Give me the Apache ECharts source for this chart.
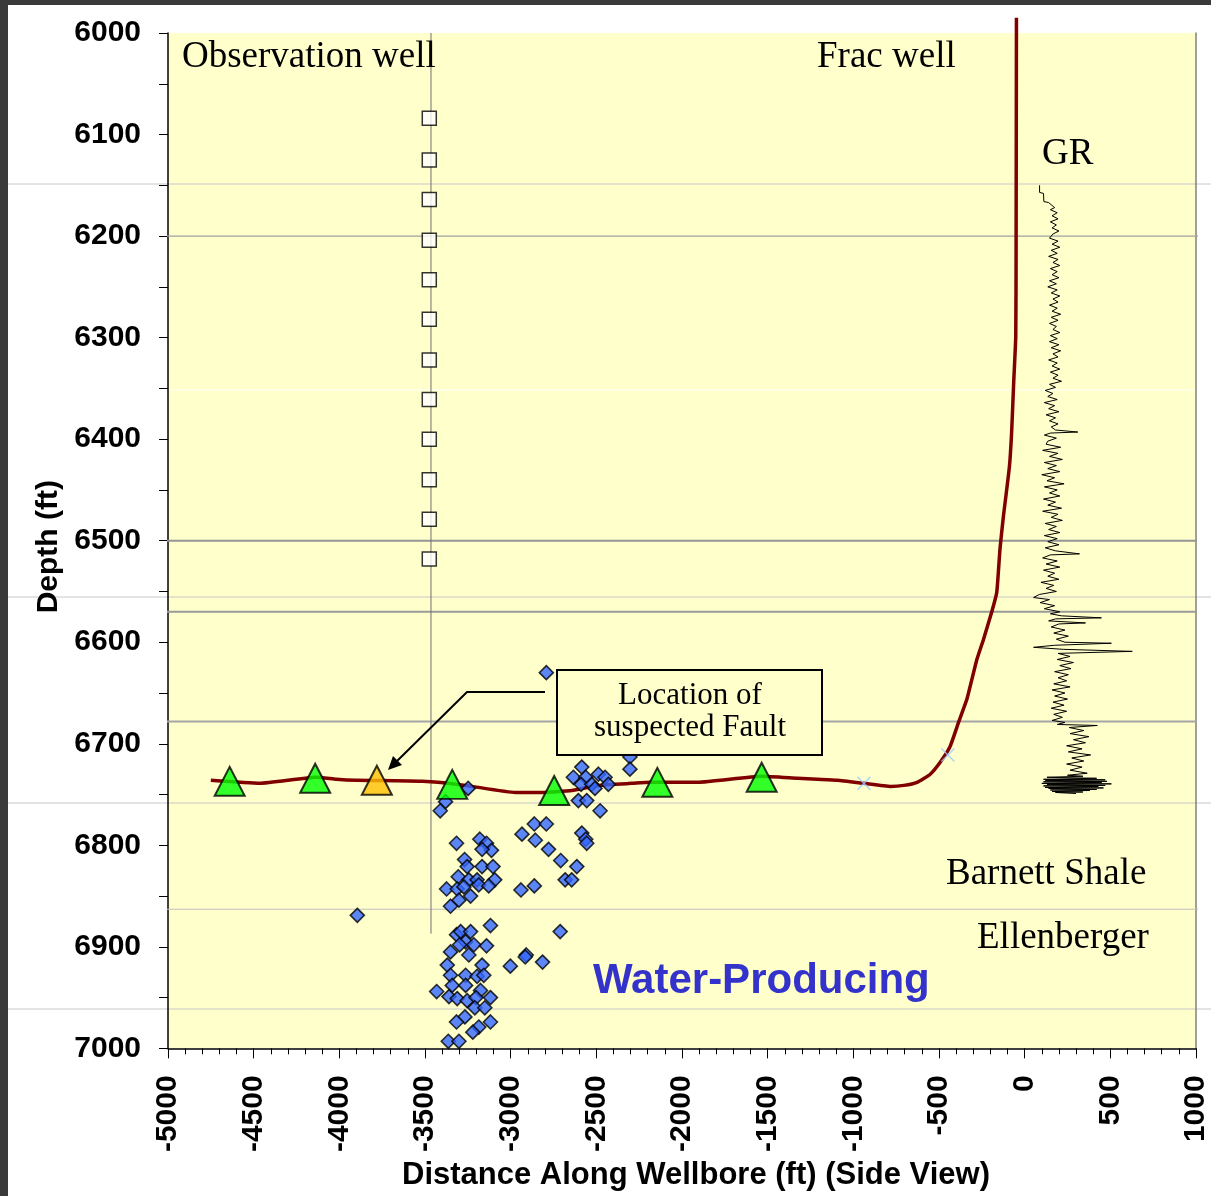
<!DOCTYPE html>
<html>
<head>
<meta charset="utf-8">
<script src="https://cdn.jsdelivr.net/npm/echarts@6/dist/echarts.min.js"></script>
<style>
  html, body { margin: 0; padding: 0; background: #fff; }
  #chart { width: 1211px; height: 1196px; }
</style>
</head>
<body>
<div id="chart"></div>
<script>
// axis ranges
var xMin = -5000, xMax = 1000;
var depthMin = 6000, depthMax = 7000;

// formation tops / marker horizons (ft)
var topDepths = [6200, 6500, 6570, 6678, 6863];

// observation well
var obsWellX = -3465;
var obsWellBottom = 6887;
var obsGaugeX = -3475;
var obsGaugeDepths = [6084, 6125, 6164, 6204, 6243, 6282, 6322, 6361, 6400, 6440, 6479, 6518];

// frac well path [distance, depth]
var fracPath = [
    [-48, 5985], [-50, 6213], [-52, 6299], [-64, 6344], [-76, 6393], [-89, 6427],
    [-124, 6476], [-144, 6508], [-163, 6551], [-192, 6570], [-240, 6597], [-279, 6617],
    [-337, 6656], [-384, 6678], [-436, 6703], [-492, 6718], [-551, 6730], [-628, 6738],
    [-705, 6741], [-783, 6742], [-938, 6739], [-1093, 6736], [-1209, 6735], [-1326, 6734],
    [-1535, 6732], [-1907, 6738], [-2180, 6738], [-2295, 6739], [-2488, 6741], [-2643, 6746],
    [-2818, 6748], [-2972, 6748], [-3263, 6741], [-3515, 6737], [-3901, 6736], [-4017, 6735],
    [-4134, 6733], [-4465, 6739], [-4750, 6736]
];

// perforation markers on the frac well
var perfPoints = [[-938, 6739], [-448, 6711]];

// frac stages (triangles)
var stagePoints = [[-4640, 6737], [-4141, 6734], [-3341, 6740], [-2746, 6746], [-2144, 6738], [-1535, 6733]];
var faultStagePoints = [[-3781, 6736]];

// microseismic events [distance, depth]
var eventPoints = [
    [-2792, 6630], [-3248, 6744], [-3380, 6757], [-3411, 6766], [-2585, 6723], [-2634, 6733],
    [-2562, 6733], [-2589, 6740], [-2527, 6740], [-2488, 6730], [-2449, 6733], [-2430, 6740],
    [-2508, 6744], [-2605, 6756], [-2556, 6756], [-2478, 6766], [-2304, 6713], [-2304, 6725],
    [-3316, 6798], [-3180, 6794], [-3141, 6798], [-3112, 6805], [-3167, 6804], [-3269, 6814],
    [-3254, 6821], [-3167, 6821], [-3103, 6821], [-3306, 6831], [-3244, 6834], [-3196, 6834],
    [-3093, 6834], [-3186, 6839], [-3128, 6840], [-3374, 6843], [-3312, 6843], [-3273, 6841],
    [-3234, 6850], [-3302, 6854], [-3351, 6860], [-2934, 6789], [-2862, 6779], [-2792, 6779],
    [-2856, 6795], [-2779, 6804], [-2708, 6815], [-2614, 6821], [-2682, 6834], [-2644, 6834],
    [-2940, 6844], [-2862, 6840], [-2585, 6788], [-2562, 6794], [-2556, 6798], [-3118, 6879],
    [-3316, 6888], [-3292, 6885], [-3234, 6885], [-3263, 6895], [-3215, 6898], [-3141, 6899],
    [-3351, 6905], [-3298, 6898], [-3244, 6908], [-3370, 6918], [-3167, 6918], [-3351, 6928],
    [-3263, 6928], [-3196, 6929], [-3157, 6928], [-3341, 6938], [-3263, 6938], [-3176, 6943],
    [-3432, 6944], [-3360, 6949], [-3312, 6951], [-3254, 6953], [-3202, 6950], [-3118, 6950],
    [-3209, 6960], [-3151, 6960], [-3267, 6969], [-3316, 6974], [-3186, 6979], [-3118, 6974],
    [-3221, 6984], [-3364, 6993], [-3302, 6993], [-2711, 6885], [-2909, 6908], [-2915, 6910],
    [-3002, 6919], [-2814, 6915], [-3895, 6869]
];

// gamma ray log [depth, plotted value]
var grLog = [
    [6150, 87], [6157, 87], [6158, 110], [6166, 112], [6167, 140], [6172, 175], [6174, 150], [6177, 190],
    [6180, 160], [6183, 195], [6186, 150], [6189, 185], [6192, 160], [6195, 200], [6198, 165], [6202, 145],
    [6205, 195], [6208, 160], [6211, 205], [6214, 155], [6217, 190], [6220, 140], [6223, 195], [6226, 165],
    [6229, 205], [6232, 150], [6235, 190], [6238, 160], [6241, 200], [6244, 145], [6247, 185], [6250, 135],
    [6253, 190], [6256, 155], [6259, 205], [6262, 165], [6265, 195], [6268, 145], [6271, 190], [6274, 160],
    [6277, 210], [6280, 155], [6283, 195], [6286, 145], [6289, 185], [6292, 165], [6295, 205], [6298, 150],
    [6301, 190], [6304, 145], [6307, 200], [6310, 155], [6313, 210], [6316, 165], [6319, 195], [6322, 140],
    [6325, 190], [6328, 160], [6331, 205], [6334, 150], [6337, 195], [6340, 165], [6343, 215], [6346, 145],
    [6349, 180], [6352, 120], [6355, 165], [6358, 135], [6361, 190], [6364, 115], [6367, 175], [6370, 140],
    [6373, 200], [6376, 125], [6379, 180], [6382, 145], [6385, 195], [6388, 155], [6391, 180], [6393, 310],
    [6394, 150], [6396, 115], [6399, 185], [6402, 135], [6405, 125], [6408, 210], [6411, 105], [6414, 195],
    [6417, 145], [6420, 220], [6423, 115], [6426, 185], [6429, 135], [6432, 205], [6435, 100], [6438, 175],
    [6441, 130], [6444, 230], [6447, 115], [6450, 190], [6453, 145], [6456, 205], [6459, 110], [6462, 180],
    [6465, 135], [6468, 215], [6471, 105], [6474, 195], [6477, 155], [6480, 220], [6483, 120], [6486, 185],
    [6489, 140], [6492, 205], [6495, 115], [6498, 190], [6501, 135], [6504, 200], [6507, 120], [6510, 180],
    [6513, 320], [6514, 150], [6517, 105], [6520, 190], [6523, 125], [6526, 205], [6529, 110], [6532, 175],
    [6535, 135], [6538, 200], [6541, 95], [6544, 170], [6547, 125], [6550, 185], [6553, 85], [6556, 52],
    [6558, 145], [6561, 90], [6564, 175], [6567, 115], [6570, 205], [6572, 150], [6574, 215], [6576, 448],
    [6577, 180], [6579, 140], [6581, 355], [6582, 200], [6585, 155], [6588, 235], [6591, 170], [6594, 255],
    [6597, 185], [6600, 235], [6601, 506], [6603, 175], [6605, 52], [6607, 225], [6609, 628], [6611, 195],
    [6614, 265], [6617, 190], [6620, 285], [6623, 205], [6626, 270], [6629, 175], [6632, 255], [6635, 195],
    [6638, 245], [6641, 170], [6644, 265], [6647, 160], [6650, 235], [6653, 175], [6656, 250], [6659, 165],
    [6662, 230], [6665, 155], [6668, 245], [6671, 170], [6674, 220], [6677, 160], [6679, 235], [6681, 190],
    [6682, 424], [6684, 260], [6687, 345], [6690, 265], [6693, 375], [6696, 285], [6699, 355], [6702, 245],
    [6705, 335], [6708, 255], [6711, 385], [6714, 275], [6717, 345], [6720, 245], [6723, 335], [6726, 265],
    [6729, 365], [6731, 250], [6732, 340], [6733, 130], [6734, 420], [6735, 110], [6735.5, 470], [6736, 120],
    [6737, 480], [6737.5, 110], [6738, 450], [6739, 100], [6739.5, 506], [6740, 130], [6741, 470], [6741.5, 110],
    [6742, 430], [6743, 120], [6743.5, 460], [6744, 140], [6745, 420], [6745.5, 150], [6746, 380], [6747, 160],
    [6747.5, 340], [6748, 180], [6749, 300]
];

var serif = '"Liberation Serif", "Times New Roman", serif';
var sans = '"Liberation Sans", Arial, sans-serif';

var topColors = ['#a0a0a0', '#959595', '#9a9a9a', '#a5a5a5', '#c0c0c0'];
var topWidths = [1.2, 2, 2, 2, 1.2];

var chart = echarts.init(document.getElementById('chart'));

var series = [];

// formation top lines, a little wider than the plot
topDepths.forEach(function(d, i) {
    series.push({
        type: 'line',
        data: [[xMin - 75, d], [xMax + 64, d]],
        symbol: 'none',
        clip: false,
        silent: true,
        z: 1,
        lineStyle: { color: topColors[i], width: topWidths[i] }
    });
});

series.push({
    type: 'line',
    data: [[obsWellX, depthMin], [obsWellX, obsWellBottom]],
    symbol: 'none',
    z: 2,
    lineStyle: { color: '#707070', width: 1 }
});

series.push({
    type: 'scatter',
    data: obsGaugeDepths.map(function(d) { return [obsGaugeX, d]; }),
    symbol: 'rect',
    symbolSize: 14,
    z: 3,
    itemStyle: { color: '#ffffff', borderColor: '#000', borderWidth: 1.5 }
});

series.push({
    type: 'line',
    data: grLog.map(function(p) { return [p[1], p[0]]; }),
    symbol: 'none',
    z: 3,
    lineStyle: { color: '#000', width: 1 }
});

series.push({
    type: 'line',
    data: fracPath,
    symbol: 'none',
    smooth: 0.15,
    clip: false,
    z: 4,
    lineStyle: { color: '#800000', width: 3.5, join: 'round' }
});

series.push({
    type: 'scatter',
    data: eventPoints,
    symbol: 'diamond',
    symbolSize: 14,
    z: 5,
    itemStyle: { color: '#3366ff', borderColor: '#000', borderWidth: 1.6 }
});

series.push({
    type: 'scatter',
    data: perfPoints,
    symbol: 'path://M0,1.5L1.5,0L10,8.5L18.5,0L20,1.5L11.5,10L20,18.5L18.5,20L10,11.5L1.5,20L0,18.5L8.5,10Z',
    symbolSize: 14,
    z: 5,
    itemStyle: { color: '#99ccff' }
});

series.push({
    type: 'scatter',
    data: stagePoints,
    symbol: 'triangle',
    symbolSize: [30, 29],
    z: 6,
    itemStyle: { color: '#00ff00', borderColor: '#000', borderWidth: 2 }
});

series.push({
    type: 'scatter',
    data: faultStagePoints,
    symbol: 'triangle',
    symbolSize: [30, 29],
    z: 6,
    itemStyle: { color: '#ffc000', borderColor: '#000', borderWidth: 2 }
});

// page decoration lines (slide background)
var pageLines = [184, 390, 597, 803, 1009];
var pageLineColors = ['#c8c8c8', '#ffffff', '#c8c8c8', '#c8c8c8', '#c8c8c8'];

var graphic = [
    { type: 'rect', shape: { x: 0, y: 0, width: 8, height: 1196 }, style: { fill: '#3a3a3a' }, z: 100 },
    { type: 'rect', shape: { x: 0, y: 0, width: 1211, height: 5 }, style: { fill: '#3a3a3a' }, z: 100 }
];
pageLines.forEach(function(y, i) {
    graphic.push({ type: 'line', shape: { x1: 8, y1: y, x2: 1211, y2: y },
        style: { stroke: pageLineColors[i], lineWidth: 1 }, z: 0, silent: true });
});

// annotation box + arrow
graphic.push(
    { type: 'polyline', shape: { points: [[545, 692], [467, 692], [394, 764]] },
      style: { stroke: '#000', lineWidth: 2, fill: null }, z: 50 },
    { type: 'polygon', shape: { points: [[388, 770], [393, 756], [402, 765]] },
      style: { fill: '#000' }, z: 50 },
    { type: 'rect', shape: { x: 557, y: 670, width: 265, height: 85 },
      style: { fill: '#ffffcc', stroke: '#000', lineWidth: 2 }, z: 50 },
    { type: 'text', x: 690, y: 696, z: 51,
      style: { text: 'Location of', font: '31px ' + serif, fill: '#000', align: 'center', verticalAlign: 'middle' } },
    { type: 'text', x: 690, y: 728, z: 51,
      style: { text: 'suspected Fault', font: '31px ' + serif, fill: '#000', align: 'center', verticalAlign: 'middle' } }
);

var labels = [
    ['Observation well', 182, 57],
    ['Frac well', 817, 57],
    ['GR', 1042, 154],
    ['Barnett Shale', 946, 874],
    ['Ellenberger', 977, 938]
];
labels.forEach(function(l) {
    graphic.push({ type: 'text', x: l[1], y: l[2], z: 51,
        style: { text: l[0], font: '37px ' + serif, fill: '#000', align: 'left', verticalAlign: 'middle' } });
});
graphic.push({ type: 'text', x: 593, y: 981, z: 51,
    style: { text: 'Water-Producing', font: 'bold 42px ' + sans, fill: '#3333cc', align: 'left', verticalAlign: 'middle' } });

var option = {
    animation: false,
    backgroundColor: '#ffffff',
    grid: {
        left: 168, right: 11, top: 33, bottom: 146,
        show: true, backgroundColor: '#ffffcc', borderWidth: 0
    },
    xAxis: {
        type: 'value',
        min: xMin, max: xMax, interval: 500,
        name: 'Distance Along Wellbore (ft) (Side View)',
        nameLocation: 'middle',
        nameGap: 106,
        nameTextStyle: { fontFamily: sans, fontWeight: 'bold', fontSize: 31, color: '#000', padding: [0, 0, 0, 28] },
        axisLine: { onZero: false, lineStyle: { color: '#000', width: 1.5 } },
        axisTick: { length: 10, lineStyle: { color: '#000', width: 1 } },
        minorTick: { show: true, splitNumber: 5, length: 6, lineStyle: { color: '#000', width: 1 } },
        splitLine: { show: false },
        axisLabel: {
            rotate: 90, margin: 27, color: '#000', fontFamily: sans, fontWeight: 'bold', fontSize: 30,
            formatter: function(v) { return String(v); }
        }
    },
    yAxis: [{
        type: 'value',
        inverse: true,
        min: depthMin, max: depthMax, interval: 100,
        name: 'Depth (ft)',
        nameLocation: 'middle',
        nameGap: 93,
        nameRotate: 90,
        nameTextStyle: { fontFamily: sans, fontWeight: 'bold', fontSize: 30, color: '#000', padding: [0, 12, 0, 0] },
        axisLine: { onZero: false, lineStyle: { color: '#000', width: 1.5 } },
        axisTick: { length: 9, lineStyle: { color: '#000', width: 1 } },
        minorTick: { show: true, splitNumber: 2, length: 9, lineStyle: { color: '#000', width: 1 } },
        splitLine: { show: false },
        axisLabel: {
            margin: 27, color: '#000', fontFamily: sans, fontWeight: 'bold', fontSize: 30,
            formatter: function(v) { return String(v); }
        }
    }, {
        type: 'value',
        position: 'right',
        inverse: true,
        min: depthMin, max: depthMax,
        axisLine: { show: true, onZero: false, lineStyle: { color: '#808080', width: 1.5 } },
        axisTick: { show: false },
        minorTick: { show: false },
        axisLabel: { show: false },
        splitLine: { show: false }
    }],
    series: series,
    graphic: graphic
};

chart.setOption(option);
</script>
</body>
</html>
